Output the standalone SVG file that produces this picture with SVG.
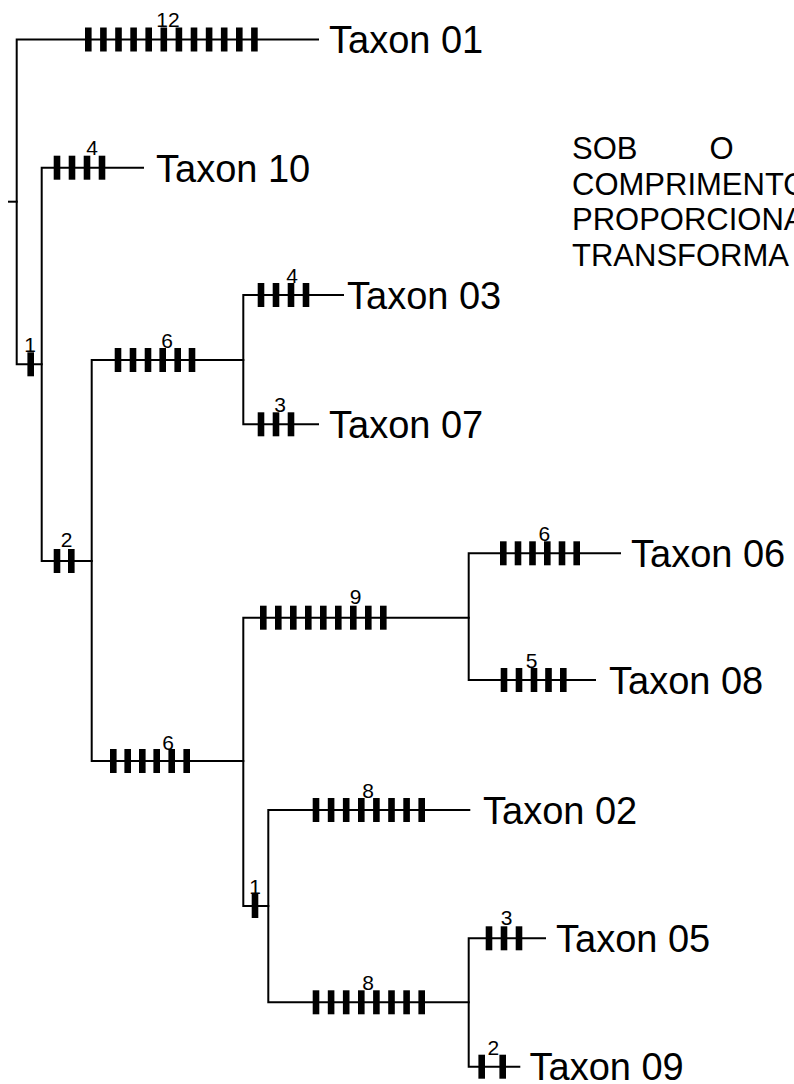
<svg xmlns="http://www.w3.org/2000/svg" xmlns:xlink="http://www.w3.org/1999/xlink" width="794" height="1084" viewBox="0 0 794 1084">
<style>
.ln{fill:none;stroke:#000;stroke-width:2;stroke-linecap:square;stroke-linejoin:miter}
.tx{font-family:"Liberation Sans",Arial,sans-serif;font-size:38px;fill:#000}
.n{font-family:"Liberation Sans",Arial,sans-serif;font-size:21px;fill:#000;text-anchor:middle}
.note{font-family:"Liberation Sans",Arial,sans-serif;font-size:31px;fill:#000}
</style>
<defs>
<rect id="tk" x="-3.3" y="-12" width="6.6" height="24" fill="#000"/>
</defs>
<rect width="794" height="1084" fill="#fff"/>
<g id="connectors" class="ln">
<path d="M9,201.7 H16.7"/>
<path d="M318,39.5 H16.7 V364.3 H41.7"/>
<path d="M143,167.7 H41.7 V561 H91.7"/>
<path d="M243.3,360 H91.7 V761 H243.3"/>
<path d="M343,295 H243.3 V424.3 H318"/>
<path d="M468.7,617.7 H243.3 V906 H268.3"/>
<path d="M620,553.3 H468.7 V680 H595"/>
<path d="M469.3,810 H268.3 V1002.3 H468.7"/>
<path d="M545,938.3 H468.7 V1066.7 H519.3"/>
</g>
<g id="branch-taxon01">
<use xlink:href="#tk" x="88.3" y="39.5"/><use xlink:href="#tk" x="103.4" y="39.5"/><use xlink:href="#tk" x="118.5" y="39.5"/><use xlink:href="#tk" x="133.6" y="39.5"/><use xlink:href="#tk" x="148.7" y="39.5"/><use xlink:href="#tk" x="163.8" y="39.5"/><use xlink:href="#tk" x="178.9" y="39.5"/><use xlink:href="#tk" x="194" y="39.5"/><use xlink:href="#tk" x="209.1" y="39.5"/><use xlink:href="#tk" x="224.2" y="39.5"/><use xlink:href="#tk" x="239.3" y="39.5"/><use xlink:href="#tk" x="254.4" y="39.5"/>
<text class="n" x="168" y="27">12</text>
</g>
<g id="taxon-01"><text class="tx" x="329" y="53">Taxon 01</text></g>
<g id="branch-node1">
<use xlink:href="#tk" x="30.7" y="364.3"/>
<text class="n" x="30" y="352">1</text>
</g>
<g id="branch-taxon10">
<use xlink:href="#tk" x="57" y="167.7"/><use xlink:href="#tk" x="72" y="167.7"/><use xlink:href="#tk" x="87" y="167.7"/><use xlink:href="#tk" x="102" y="167.7"/>
<text class="n" x="92" y="155">4</text>
</g>
<g id="taxon-10"><text class="tx" x="156" y="181.5">Taxon 10</text></g>
<g id="branch-node2">
<use xlink:href="#tk" x="57" y="561"/><use xlink:href="#tk" x="71.3" y="561"/>
<text class="n" x="66.7" y="547">2</text>
</g>
<g id="branch-node6a">
<use xlink:href="#tk" x="118" y="360"/><use xlink:href="#tk" x="133" y="360"/><use xlink:href="#tk" x="148" y="360"/><use xlink:href="#tk" x="162.7" y="360"/><use xlink:href="#tk" x="177.7" y="360"/><use xlink:href="#tk" x="192" y="360"/>
<text class="n" x="167" y="348">6</text>
</g>
<g id="branch-taxon03">
<use xlink:href="#tk" x="261" y="295"/><use xlink:href="#tk" x="276" y="295"/><use xlink:href="#tk" x="291" y="295"/><use xlink:href="#tk" x="306" y="295"/>
<text class="n" x="292" y="283">4</text>
</g>
<g id="taxon-03"><text class="tx" x="347" y="308.5">Taxon 03</text></g>
<g id="branch-taxon07">
<use xlink:href="#tk" x="261" y="424.3"/><use xlink:href="#tk" x="276" y="424.3"/><use xlink:href="#tk" x="291" y="424.3"/>
<text class="n" x="280" y="412">3</text>
</g>
<g id="taxon-07"><text class="tx" x="329" y="438">Taxon 07</text></g>
<g id="branch-node6b">
<use xlink:href="#tk" x="113.3" y="761"/><use xlink:href="#tk" x="127.7" y="761"/><use xlink:href="#tk" x="142.3" y="761"/><use xlink:href="#tk" x="156.7" y="761"/><use xlink:href="#tk" x="171.7" y="761"/><use xlink:href="#tk" x="186.7" y="761"/>
<text class="n" x="168" y="750">6</text>
</g>
<g id="branch-node9">
<use xlink:href="#tk" x="263.3" y="617.7"/><use xlink:href="#tk" x="278.3" y="617.7"/><use xlink:href="#tk" x="293.3" y="617.7"/><use xlink:href="#tk" x="308.3" y="617.7"/><use xlink:href="#tk" x="323.3" y="617.7"/><use xlink:href="#tk" x="338.3" y="617.7"/><use xlink:href="#tk" x="353.3" y="617.7"/><use xlink:href="#tk" x="368.3" y="617.7"/><use xlink:href="#tk" x="383.3" y="617.7"/>
<text class="n" x="355.7" y="604">9</text>
</g>
<g id="branch-taxon06">
<use xlink:href="#tk" x="503.3" y="553.3"/><use xlink:href="#tk" x="518" y="553.3"/><use xlink:href="#tk" x="532.5" y="553.3"/><use xlink:href="#tk" x="547.3" y="553.3"/><use xlink:href="#tk" x="562" y="553.3"/><use xlink:href="#tk" x="576.7" y="553.3"/>
<text class="n" x="544.3" y="540.7">6</text>
</g>
<g id="taxon-06"><text class="tx" x="631" y="567">Taxon 06</text></g>
<g id="branch-taxon08">
<use xlink:href="#tk" x="504" y="680"/><use xlink:href="#tk" x="519" y="680"/><use xlink:href="#tk" x="534" y="680"/><use xlink:href="#tk" x="548.5" y="680"/><use xlink:href="#tk" x="563.3" y="680"/>
<text class="n" x="531.7" y="668">5</text>
</g>
<g id="taxon-08"><text class="tx" x="609" y="693.5">Taxon 08</text></g>
<g id="branch-node1b">
<use xlink:href="#tk" x="255" y="906"/>
<text class="n" x="255" y="894">1</text>
</g>
<g id="branch-taxon02">
<use xlink:href="#tk" x="316" y="810"/><use xlink:href="#tk" x="331.1" y="810"/><use xlink:href="#tk" x="346.2" y="810"/><use xlink:href="#tk" x="361.3" y="810"/><use xlink:href="#tk" x="376.4" y="810"/><use xlink:href="#tk" x="391.5" y="810"/><use xlink:href="#tk" x="406.6" y="810"/><use xlink:href="#tk" x="421.7" y="810"/>
<text class="n" x="368" y="798">8</text>
</g>
<g id="taxon-02"><text class="tx" x="483" y="823.5">Taxon 02</text></g>
<g id="branch-node8">
<use xlink:href="#tk" x="316" y="1002.3"/><use xlink:href="#tk" x="331.1" y="1002.3"/><use xlink:href="#tk" x="346.2" y="1002.3"/><use xlink:href="#tk" x="361.3" y="1002.3"/><use xlink:href="#tk" x="376.4" y="1002.3"/><use xlink:href="#tk" x="391.5" y="1002.3"/><use xlink:href="#tk" x="406.6" y="1002.3"/><use xlink:href="#tk" x="421.7" y="1002.3"/>
<text class="n" x="368" y="990">8</text>
</g>
<g id="branch-taxon05">
<use xlink:href="#tk" x="489" y="938.3"/><use xlink:href="#tk" x="504" y="938.3"/><use xlink:href="#tk" x="519" y="938.3"/>
<text class="n" x="506.7" y="925">3</text>
</g>
<g id="taxon-05"><text class="tx" x="556" y="952">Taxon 05</text></g>
<g id="branch-taxon09">
<use xlink:href="#tk" x="481.7" y="1066.7"/><use xlink:href="#tk" x="502.7" y="1066.7"/>
<text class="n" x="493.3" y="1055">2</text>
</g>
<g id="taxon-09"><text class="tx" x="529.5" y="1080">Taxon 09</text></g>
<g id="note">
<text class="note" x="572" y="159">SOB</text>
<text class="note" x="709.5" y="159">O</text>
<text class="note" x="572" y="194.5">COMPRIMENTO</text>
<text class="note" x="572" y="230">PROPORCIONA</text>
<text class="note" x="572" y="265.5">TRANSFORMA</text>
</g>
</svg>
